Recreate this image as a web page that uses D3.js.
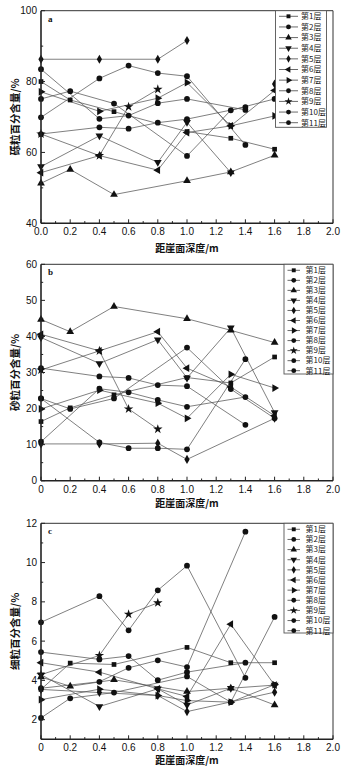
<!DOCTYPE html>
<html><head><meta charset="utf-8">
<script src="https://cdn.jsdelivr.net/npm/d3@7"></script>
<style>body{margin:0;background:#fff}svg{display:block}</style>
</head><body>
<svg id="chart" width="355" height="771"></svg>
<script>
// ---------- data ----------
const layerNames = ["第1层","第2层","第3层","第4层","第5层","第6层","第7层","第8层","第9层","第10层","第11层"];
const markerShapes = ["square","circle","triangle","triangleDown","diamond","triangleLeft","triangleRight","circle","star","circle","circle"];

// sampling depths (m) of each layer
const depths = [
  [0,0.2,0.5,1.0,1.3,1.6],
  [0,0.2,0.5,1.0,1.3,1.6],
  [0,0.2,0.5,1.0,1.3,1.6],
  [0,0.4,0.8,1.0,1.3,1.6],
  [0,0.4,0.8,1.0,1.3,1.6],
  [0,0.4,0.8,1.0,1.3,1.6],
  [0,0.4,0.8,1.0,1.3,1.6],
  [0,0.4,0.6,0.8,1.0,1.4],
  [0,0.4,0.6,0.8],
  [0,0.4,0.6,0.8,1.0,1.4],
  [0,0.4,0.6,0.8,1.0,1.4]
];
// null = gap in the line, undefined = no sample (line joins over it)
const gravel = [
  [80.0,74.8,71.5,65.9,64.0,60.9],
  [75.1,77.3,73.8,59.0,71.9,75.1],
  [51.3,55.2,48.1,52.0,54.5,59.2],
  [56.0,64.7,57.2,68.5,54.3,undefined],
  [86.3,86.3,86.3,91.6,null,79.3],
  [54.3,59.1,55.0,65.6,67.5,77.5],
  [77.1,71.6,75.3,79.7,67.5,70.3],
  [69.9,80.9,84.5,82.4,81.5,62.1],
  [65.2,59.1,72.9,77.8],
  [83.5,69.5,70.4,73.9,75.1,72.0],
  [65.2,67.1,66.7,68.4,69.4,72.8]
];
const sand = [
  [16.4,20.2,23.8,28.6,27.1,34.3],
  [22.8,19.9,22.8,36.9,25.4,17.3],
  [44.7,41.3,48.3,44.9,41.7,38.3],
  [39.7,32.5,39.1,28.5,42.4,18.9],
  [10.2,10.2,10.4,5.9,undefined,17.3],
  [40.6,36.0,41.3,31.2,26.0,18.0],
  [19.9,25.1,21.5,17.3,29.5,25.7],
  [22.8,10.6,9.0,9.0,8.7,33.7],
  [30.7,36.0,19.9,14.3],
  [10.8,25.5,24.5,22.4,20.5,23.2],
  [31.2,28.9,28.5,26.5,26.2,15.5]
];
const fines = [
  [3.54,4.88,4.81,5.68,4.90,4.90],
  [2.09,3.09,3.38,4.20,2.89,7.23],
  [4.17,3.70,4.03,3.43,3.60,2.75],
  [4.29,2.67,3.57,2.75,3.60,3.76],
  [3.54,3.38,3.23,2.41,undefined,3.40],
  [4.90,4.42,3.57,3.18,6.86,3.76],
  [3.02,3.55,3.23,2.97,2.89,3.78],
  [6.96,8.29,6.55,8.59,9.84,4.13],
  [4.29,5.27,7.37,7.95],
  [5.44,5.07,5.24,4.01,4.42,4.90],
  [3.60,3.93,4.64,5.02,4.68,11.57]
];
const xTicks = [0,0.2,0.4,0.6,0.8,1.0,1.2,1.4,1.6,1.8,2.0];
const xMinorTicks = [0.1,0.3,0.5,0.7,0.9,1.1,1.3,1.5,1.7,1.9];
const gravelTicks = [40,60,80,100];
const gravelMinor = [50,70,90];
const sandTicks = [0,10,20,30,40,50,60];
const sandMinor = [5,15,25,35,45,55];
const finesTicks = [2,4,6,8,10,12];
const finesMinor = [1,3,5,7,9,11];
const xTitle = "距崖面深度/m";

// ---------- layout ----------
const panels = [
  {letter:"a", values:gravel, dom:[40,100], ticks:gravelTicks, minor:gravelMinor, top:10.7, bottom:223.3,
   yTitle:"砾粒百分含量/%", xfmt:d=>d.toFixed(1), tickDy:8, titleDy:25,
   lg:{x0:275.5,x1:326.5,y1:127.3,row0:16.3,step:10.64,l0:279,l1:298,tx:301}},
  {letter:"b", values:sand, dom:[0,60], ticks:sandTicks, minor:sandMinor, top:264.3, bottom:480.7,
   yTitle:"砂粒百分含量/%", xfmt:d=>d===0?"0":d.toFixed(1), tickDy:9, titleDy:22.8,
   lg:{x0:284,x1:333,y1:374,row0:270.3,step:10.04,l0:287.5,l1:300,tx:305.5}},
  {letter:"c", values:fines, dom:[1,12], ticks:finesTicks, minor:finesMinor, top:523.3, bottom:739.3,
   yTitle:"细粒百分含量/%", xfmt:d=>d===0?"0":d.toFixed(1), tickDy:8.3, titleDy:20.8,
   lg:{x0:284,x1:333,y1:633,row0:529.3,step:10.14,l0:287.5,l1:300,tx:305.5}}
];

const svg = d3.select("#chart");
const X0 = 41, X1 = 333;
const x = d3.scaleLinear().domain([0,2]).range([X0,X1]);

function symPath(shape, size){
  const m = {square:d3.symbolSquare, circle:d3.symbolCircle, triangle:d3.symbolTriangle,
    triangleDown:d3.symbolTriangle, triangleLeft:d3.symbolTriangle, triangleRight:d3.symbolTriangle,
    diamond:d3.symbolDiamond, star:d3.symbolStar};
  return d3.symbol(m[shape], size)();
}
const rot = {triangleDown:180, triangleLeft:-90, triangleRight:90};
const symSize = {square:22, circle:26, triangle:26, triangleDown:26, triangleLeft:26, triangleRight:26, diamond:24, star:28};

const numFont = "'Liberation Sans', Arial, sans-serif";
const cjkFont = "'Noto Sans CJK SC', sans-serif";

panels.forEach(p => {
  const y = d3.scaleLinear().domain(p.dom).range([p.bottom, p.top]);
  const g = svg.append("g");

  // series lines
  p.values.forEach((vals, i) => {
    const pts = depths[i].map((d, j) => ({d, v: vals[j]})).filter(o => o.v !== undefined);
    const line = d3.line().defined(o => o.v !== null).x(o => x(o.d)).y(o => y(o.v));
    g.append("path").attr("d", line(pts)).attr("fill","none")
      .attr("stroke","#555").attr("stroke-width",0.75);
  });
  // markers
  p.values.forEach((vals, i) => {
    const sh = markerShapes[i];
    const pts = depths[i].map((d, j) => ({d, v: vals[j]})).filter(o => o.v != null);
    g.selectAll(null).data(pts).enter().append("path")
      .attr("d", symPath(sh, symSize[sh]))
      .attr("transform", o => `translate(${x(o.d)},${y(o.v)}) rotate(${rot[sh]||0})`)
      .attr("fill","#111");
  });

  // frame
  g.append("line").attr("x1",X0).attr("x2",X1).attr("y1",p.top).attr("y2",p.top).attr("stroke","#333").attr("stroke-width",1);
  g.append("line").attr("x1",X1).attr("x2",X1).attr("y1",p.top).attr("y2",p.bottom).attr("stroke","#333").attr("stroke-width",1);
  g.append("line").attr("x1",X0).attr("x2",X1).attr("y1",p.bottom).attr("y2",p.bottom).attr("stroke","#222").attr("stroke-width",1.5);
  g.append("line").attr("x1",X0).attr("x2",X0).attr("y1",p.top).attr("y2",p.bottom).attr("stroke","#222").attr("stroke-width",1.6);

  // x ticks (inward)
  xTicks.forEach(t => {
    g.append("line").attr("x1",x(t)).attr("x2",x(t)).attr("y1",p.bottom).attr("y2",p.bottom-4).attr("stroke","#222").attr("stroke-width",1);
    g.append("text").attr("x",x(t)).attr("y",p.bottom+p.tickDy).attr("dy","0.35em")
      .attr("text-anchor","middle").attr("font-family",numFont).attr("font-size",10).attr("fill","#111")
      .text(p.xfmt(t));
  });
  xMinorTicks.forEach(t => {
    g.append("line").attr("x1",x(t)).attr("x2",x(t)).attr("y1",p.bottom).attr("y2",p.bottom-2.2).attr("stroke","#222").attr("stroke-width",1);
  });
  // y ticks
  p.ticks.forEach(t => {
    g.append("line").attr("x1",X0).attr("x2",X0+4).attr("y1",y(t)).attr("y2",y(t)).attr("stroke","#222").attr("stroke-width",1);
    g.append("text").attr("x",37).attr("y",y(t)).attr("dy","0.35em")
      .attr("text-anchor","end").attr("font-family",numFont).attr("font-size",10).attr("fill","#111")
      .text(t);
  });
  p.minor.forEach(t => {
    g.append("line").attr("x1",X0).attr("x2",X0+2.2).attr("y1",y(t)).attr("y2",y(t)).attr("stroke","#222").attr("stroke-width",1);
  });

  // titles
  g.append("text").attr("x",(X0+X1)/2).attr("y",p.bottom+p.titleDy).attr("dy","0.35em")
    .attr("text-anchor","middle").attr("font-family",cjkFont).attr("font-weight",700)
    .attr("font-size",10).attr("fill","#111").text(xTitle);
  const cy = (p.top+p.bottom)/2;
  g.append("text").attr("transform",`translate(15.5,${cy}) rotate(-90)`).attr("dy","0.35em")
    .attr("text-anchor","middle").attr("font-family",cjkFont).attr("font-weight",700)
    .attr("font-size",10.5).attr("fill","#111").text(p.yTitle);
  g.append("text").attr("x",48).attr("y",p.top+8).attr("dy","0.35em")
    .attr("font-family","'Liberation Serif', serif").attr("font-weight",700)
    .attr("font-size",9).attr("fill","#111").text(p.letter);

  // legend
  const L = p.lg;
  g.append("rect").attr("x",L.x0).attr("y",p.top).attr("width",L.x1-L.x0).attr("height",L.y1-p.top)
    .attr("fill","#fff").attr("stroke","#555").attr("stroke-width",0.9);
  layerNames.forEach((name, i) => {
    const ry = L.row0 + i*L.step;
    const sh = markerShapes[i];
    g.append("line").attr("x1",L.l0).attr("x2",L.l1).attr("y1",ry).attr("y2",ry).attr("stroke","#444").attr("stroke-width",0.8);
    g.append("path").attr("d", symPath(sh, symSize[sh]*0.7))
      .attr("transform",`translate(${(L.l0+L.l1)/2},${ry}) rotate(${rot[sh]||0})`).attr("fill","#111");
    g.append("text").attr("x",L.tx).attr("y",ry).attr("dy","0.35em")
      .attr("font-family",cjkFont).attr("font-size",8).attr("fill","#222").text(name);
  });
});
</script>
</body></html>
